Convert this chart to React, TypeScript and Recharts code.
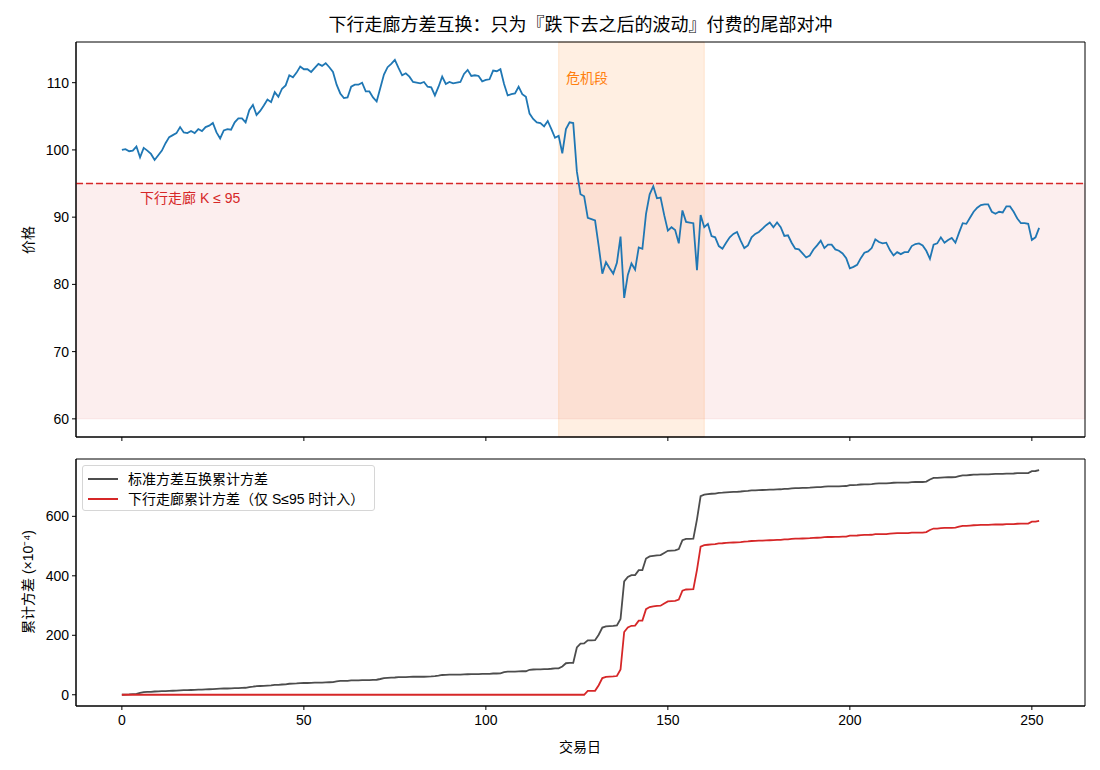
import React from 'react';
import { ComposedChart, Line, XAxis, YAxis, ReferenceArea, ReferenceLine, ReferenceDot } from 'recharts';

const FONT = "'Liberation Sans', 'Noto Sans CJK SC', sans-serif";

// ---- data ----
const prices = [
  100.0, 100.1, 99.8, 99.9, 100.5, 98.9, 100.3, 99.9, 99.4, 98.5,
  99.2, 99.9, 101.0, 101.9, 102.2, 102.5, 103.4, 102.6, 102.5, 102.8,
  102.5, 103.1, 102.8, 103.4, 103.6, 104.0, 102.6, 101.7, 102.9, 103.1,
  103.0, 104.1, 104.7, 104.7, 104.1, 105.9, 106.7, 105.2, 105.8, 106.6,
  107.5, 107.1, 108.6, 107.9, 109.1, 109.6, 111.1, 110.8, 111.5, 112.4,
  112.0, 112.0, 111.6, 112.2, 112.8, 112.5, 112.9, 112.3, 111.6, 109.7,
  108.4, 107.7, 107.8, 109.4, 109.7, 109.7, 110.0, 108.7, 108.7, 107.8,
  107.2, 109.2, 111.2, 112.3, 112.8, 113.4, 112.2, 111.1, 111.4, 110.9,
  110.1, 110.0, 109.9, 110.1, 109.4, 109.3, 108.1, 109.4, 110.9, 109.8,
  110.1, 109.9, 110.0, 110.1, 111.3, 111.9, 111.0, 111.1, 111.0, 110.2,
  110.4, 110.5, 111.8, 111.7, 112.0, 109.8, 108.1, 108.3, 108.4, 109.4,
  108.3, 107.9, 105.4, 104.6, 104.1, 104.0, 103.5, 104.3, 103.1, 101.8,
  102.1, 99.5, 103.1, 104.1, 104.0, 96.8, 93.4, 93.1, 89.9, 89.7,
  89.5, 85.7, 81.6, 83.3, 82.4, 81.6, 83.2, 87.1, 78.0, 81.4,
  83.1, 82.2, 85.5, 85.3, 90.5, 93.4, 94.6, 92.8, 92.9, 90.3,
  88.0, 88.5, 88.1, 86.1, 91.0, 89.3, 89.2, 89.1, 82.1, 90.3,
  88.5, 89.0, 87.2, 87.0, 85.7, 85.3, 86.2, 87.0, 87.5, 87.8,
  86.5, 85.4, 85.8, 87.0, 87.5, 87.8, 88.3, 88.8, 89.2, 88.5,
  89.2, 88.5, 87.2, 87.3, 86.2, 85.3, 85.2, 84.6, 84.0, 84.3,
  85.2, 85.8, 86.5, 85.4, 85.9, 85.9, 85.2, 85.0, 84.6, 83.9,
  82.4, 82.6, 82.9, 83.9, 84.7, 84.9, 85.4, 86.7, 86.3, 86.1,
  86.2, 85.1, 84.3, 84.8, 84.5, 84.8, 84.8, 85.7, 86.0, 86.1,
  85.8, 85.0, 83.8, 85.9, 86.1, 87.0, 86.2, 86.6, 86.9, 86.2,
  87.7, 89.1, 89.0, 89.9, 90.8, 91.4, 91.8, 91.9, 91.9, 90.8,
  90.5, 90.8, 90.7, 91.6, 91.6, 90.8, 89.8, 89.1, 89.1, 89.0,
  86.6, 87.0, 88.4,
];

const stdCumVar = [
  0, 0.5, 1, 2, 3, 6, 9, 9.5, 10, 11,
  11.5, 12, 12.5, 13, 13.5, 14, 15, 15.5, 15.5, 16,
  16.5, 17, 17.5, 18, 18.5, 19, 20, 20.5, 21, 21,
  21.5, 22, 22.5, 23, 23.5, 26, 27, 29, 29.5, 30,
  31, 31.5, 33, 33.5, 34.5, 35, 37, 37.5, 38, 39,
  39.5, 39.5, 40, 40.5, 41, 41, 41.5, 42, 42.5, 45,
  46.5, 47, 47, 48.5, 48.5, 48.5, 49, 49.5, 49.5, 50,
  50.5, 53, 56, 57, 57.5, 58, 59, 59.5, 59.5, 60,
  60.5, 60.5, 60.5, 60.5, 61, 61.5, 62.5, 64, 66.5, 67,
  67.5, 67.5, 67.5, 67.5, 68.5, 69, 69.5, 69.5, 69.5, 70,
  70, 70, 71.5, 71.5, 72, 76, 78, 78, 78, 78.5,
  79, 79, 84, 85, 85.5, 85.5, 86, 86.5, 87.5, 89,
  89, 95, 106, 107, 107, 159, 172, 172.5, 183, 183,
  183.5, 202, 226, 230, 231, 231.5, 233, 255, 381, 396,
  402, 402.5, 419, 419.5, 458, 465, 467, 469, 469.5, 477,
  484, 485, 485.5, 490, 520, 524, 524.5, 525, 590, 668,
  673, 674.5, 676, 676.5, 679, 679.5, 680.5, 681.5, 682, 682.5,
  683.5, 685, 685.5, 687, 687.5, 688, 688.5, 689, 689.5, 690,
  690.5, 691, 692.5, 692.5, 694, 695, 695, 695.5, 696, 696.5,
  697.5, 698, 698.5, 700, 700.5, 700.5, 701, 701, 701.5, 702,
  705, 705, 705.5, 707, 707.5, 707.5, 708, 710, 710.5, 710.5,
  710.5, 712, 713, 713.5, 713.5, 713.5, 713.5, 715, 715.5, 715.5,
  715.5, 717, 724, 729, 729, 730.5, 731, 731.5, 731.5, 732,
  735, 738, 738, 739, 740, 740.5, 741, 741, 741, 742,
  742.5, 742.5, 742.5, 743.5, 743.5, 744, 745, 745.5, 745.5, 745.5,
  752, 752.5, 755,
];

const corridorCumVar = [
  0, 0, 0, 0, 0, 0, 0, 0, 0, 0, 0, 0, 0, 0, 0, 0,
  0, 0, 0, 0, 0, 0, 0, 0, 0, 0, 0, 0, 0, 0, 0, 0,
  0, 0, 0, 0, 0, 0, 0, 0, 0, 0, 0, 0, 0, 0, 0, 0,
  0, 0, 0, 0, 0, 0, 0, 0, 0, 0, 0, 0, 0, 0, 0, 0,
  0, 0, 0, 0, 0, 0, 0, 0, 0, 0, 0, 0, 0, 0, 0, 0,
  0, 0, 0, 0, 0, 0, 0, 0, 0, 0, 0, 0, 0, 0, 0, 0,
  0, 0, 0, 0, 0, 0, 0, 0, 0, 0, 0, 0, 0, 0, 0, 0,
  0, 0, 0, 0, 0, 0, 0, 0, 0, 0, 0, 0, 0, 0, 0, 0,
  13, 13,
  13.5, 32, 56, 60, 61, 61.5, 63, 85, 211, 226,
  232, 232.5, 249, 249.5, 288, 295, 297, 299, 299.5, 307,
  314, 315, 315.5, 320, 350, 354, 354.5, 355, 420, 498,
  503, 504.5, 506, 506.5, 509, 509.5, 510.5, 511.5, 512, 512.5,
  513.5, 515, 515.5, 517, 517.5, 518, 518.5, 519, 519.5, 520,
  520.5, 521, 522.5, 522.5, 524, 525, 525, 525.5, 526, 526.5,
  527.5, 528, 528.5, 530, 530.5, 530.5, 531, 531, 531.5, 532,
  535, 535, 535.5, 537, 537.5, 537.5, 538, 540, 540.5, 540.5,
  540.5, 542, 543, 543.5, 543.5, 543.5, 543.5, 545, 545.5, 545.5,
  545.5, 547, 554, 559, 559, 560.5, 561, 561.5, 561.5, 562,
  565, 568, 568, 569, 570, 570.5, 571, 571, 571, 572,
  572.5, 572.5, 572.5, 573.5, 573.5, 574, 575, 575.5, 575.5, 575.5,
  582, 582.5, 585,
];

const xTicks = [0, 50, 100, 150, 200, 250];
const priceTicks = [60, 70, 80, 90, 100, 110];
const varTicks = [0, 200, 400, 600];
const strike = 95;
const corridorFloor = 60;
const crisisStart = 120;
const crisisEnd = 160;

const priceData = prices.map((p, i) => ({ day: i, price: p }));
const varData = stdCumVar.map((v, i) => ({ day: i, std: v, corridor: corridorCumVar[i] }));

const X_DOMAIN: [number, number] = [-12.6, 264.6];
const P_DOMAIN: [number, number] = [57.3, 116.05];
const V_DOMAIN: [number, number] = [-37.8, 792.8];

const tickStyle = { fill: '#000', fontSize: 14, fontFamily: FONT };

export default function App() {
  return (
    <div style={{ position: 'absolute', left: 0, top: 0, width: 1100, height: 770, background: '#fff', fontFamily: FONT, color: '#000' }}>
      <div style={{ position: 'absolute', left: 76, top: 13, width: 1009, textAlign: 'center', fontSize: 18, lineHeight: '24px', whiteSpace: 'nowrap' }}>
        下行走廊方差互换：只为『跌下去之后的波动』付费的尾部对冲
      </div>

      <div style={{ position: 'absolute', left: 0, top: 0 }}>
        <ComposedChart width={1100} height={447} data={priceData} margin={{ top: 42, right: 15, bottom: 0, left: 0 }}>
          <ReferenceArea y1={corridorFloor} y2={strike} fill="#d62728" fillOpacity={0.08} stroke="#d62728" strokeOpacity={0.08} ifOverflow="visible" />
          <ReferenceArea x1={crisisStart} x2={crisisEnd} fill="#ff7f0e" fillOpacity={0.12} stroke="#ff7f0e" strokeOpacity={0.15} ifOverflow="visible" />
          <XAxis dataKey="day" type="number" domain={X_DOMAIN} ticks={xTicks} tickFormatter={() => ''} height={10} tickSize={4} stroke="#000" allowDataOverflow tick={tickStyle} />
          <YAxis type="number" domain={P_DOMAIN} ticks={priceTicks} width={76} tickSize={4} tickMargin={3} stroke="#000" allowDataOverflow tick={tickStyle} />
          <ReferenceLine y={strike} stroke="#d62728" strokeWidth={1.5} strokeDasharray="7 3" ifOverflow="visible" />
          <Line type="linear" dataKey="price" stroke="#1f77b4" strokeWidth={1.8} dot={false} isAnimationActive={false} />
          <ReferenceDot x={122} y={110.7} r={0} fill="none" stroke="none" ifOverflow="visible"
            label={{ value: '危机段', position: 'right', offset: 0, fill: '#ff7f0e', fontSize: 14, fontFamily: FONT }} />
          <ReferenceDot x={5} y={92.9} r={0} fill="none" stroke="none" ifOverflow="visible"
            label={{ value: '下行走廊 K ≤ 95', position: 'right', offset: 0, fill: '#d62728', fontSize: 14, fontFamily: FONT }} />
          <ReferenceArea x1={X_DOMAIN[0]} x2={X_DOMAIN[1]} y1={P_DOMAIN[0]} y2={P_DOMAIN[1]} fill="none" stroke="#000" strokeWidth={1} ifOverflow="visible" />
        </ComposedChart>
      </div>

      <div style={{ position: 'absolute', left: 0, top: 449 }}>
        <ComposedChart width={1100} height={321} data={varData} margin={{ top: 10, right: 15, bottom: 34, left: 0 }}>
          <XAxis dataKey="day" type="number" domain={X_DOMAIN} ticks={xTicks} height={30} tickSize={4} tickMargin={5} stroke="#000" allowDataOverflow tick={tickStyle} />
          <YAxis type="number" domain={V_DOMAIN} ticks={varTicks} width={76} tickSize={4} tickMargin={3} stroke="#000" allowDataOverflow tick={tickStyle} />
          <Line type="linear" dataKey="std" stroke="#4d4d4d" strokeWidth={1.8} dot={false} isAnimationActive={false} />
          <Line type="linear" dataKey="corridor" stroke="#d62728" strokeWidth={1.8} dot={false} isAnimationActive={false} />
          <ReferenceArea x1={X_DOMAIN[0]} x2={X_DOMAIN[1]} y1={V_DOMAIN[0]} y2={V_DOMAIN[1]} fill="none" stroke="#000" strokeWidth={1} ifOverflow="visible" />
        </ComposedChart>
      </div>

      <div style={{ position: 'absolute', left: 27, top: 240, transform: 'translate(-50%, -50%) rotate(-90deg)', fontSize: 14, whiteSpace: 'nowrap' }}>价格</div>
      <div style={{ position: 'absolute', left: 27, top: 582, transform: 'translate(-50%, -50%) rotate(-90deg)', fontSize: 14, whiteSpace: 'nowrap' }}>累计方差 (×10⁻⁴)</div>
      <div style={{ position: 'absolute', left: 580, top: 746, transform: 'translate(-50%, -50%)', fontSize: 14, whiteSpace: 'nowrap' }}>交易日</div>

      <div style={{ position: 'absolute', left: 82, top: 465, width: 291, height: 44, border: '1px solid #d6d6d6', borderRadius: 3, background: 'rgba(255,255,255,0.8)', fontSize: 14 }}>
        <div style={{ position: 'absolute', left: 5, top: 12, width: 30, height: 2, background: '#4d4d4d' }} />
        <div style={{ position: 'absolute', left: 45, top: 3, lineHeight: '20px', whiteSpace: 'nowrap' }}>标准方差互换累计方差</div>
        <div style={{ position: 'absolute', left: 5, top: 32, width: 30, height: 2, background: '#d62728' }} />
        <div style={{ position: 'absolute', left: 45, top: 23, lineHeight: '20px', whiteSpace: 'nowrap' }}>下行走廊累计方差（仅 S≤95 时计入）</div>
      </div>
    </div>
  );
}
